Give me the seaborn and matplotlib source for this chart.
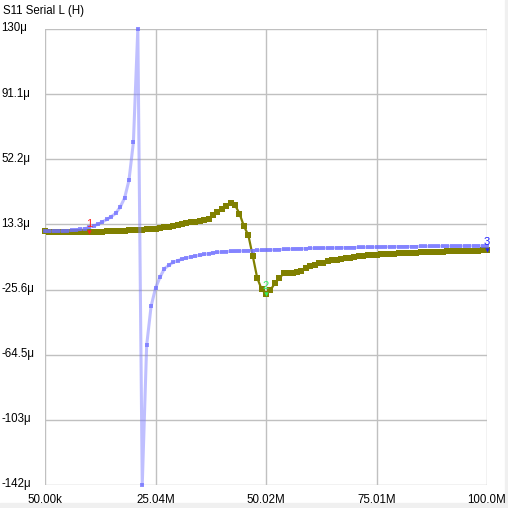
import numpy as np
import pandas as pd
import matplotlib
matplotlib.use("Agg")
import matplotlib.pyplot as plt
import matplotlib.transforms as mtrans
import seaborn as sns
from matplotlib.patches import Rectangle

# ---------------- data ----------------
title = "S11 Serial L (H)"
freq_start_mhz = 0.05
freq_stop_mhz = 100.0
n_points = 101
freq_mhz = np.linspace(freq_start_mhz, freq_stop_mhz, n_points)

blue_trace_uH = [
    9.2, 9.2, 9.3, 9.3, 9.4, 9.5, 9.7, 9.9, 10.3, 10.8,
    11.5, 12.4, 13.4, 14.8, 16.3, 17.9, 20.0, 23.6, 29.0, 39.7,
    62.4, 130.0, -142.3, -58.9, -35.6, -24.8, -18.3, -13.2, -11.1, -9.3,
    -8.4, -7.4, -6.7, -6.1, -5.6, -5.1, -4.6, -4.1, -3.7, -3.4,
    -3.1, -2.9, -2.8, -2.7, -2.6, -2.5, -2.4, -2.3, -2.2, -2.1,
    -2.0, -1.9, -1.8, -1.7, -1.6, -1.5, -1.4, -1.3, -1.2, -1.1,
    -1.0, -0.9, -0.9, -0.8, -0.8, -0.7, -0.7, -0.6, -0.6, -0.5,
    -0.5, -0.4, -0.4, -0.3, -0.3, -0.2, -0.2, -0.1, -0.1, 0.0,
    0.0, 0.0, 0.1, 0.1, 0.1, 0.2, 0.2, 0.2, 0.3, 0.3,
    0.3, 0.3, 0.4, 0.4, 0.4, 0.4, 0.5, 0.5, 0.5, 0.5,
    0.5,
]

olive_trace_uH = [
    9.2, 8.9, 8.7, 8.6, 8.6, 8.6, 8.6, 8.7, 8.7, 8.8,
    8.8, 8.9, 8.9, 9.0, 9.2, 9.3, 9.4, 9.5, 9.6, 9.7,
    9.8, 10.0, 10.2, 10.4, 10.6, 10.8, 11.2, 11.6, 12.0, 12.5,
    13.0, 13.6, 14.1, 14.6, 15.0, 15.3, 15.7, 16.8, 18.8, 20.6,
    22.8, 24.5, 25.8, 24.8, 19.8, 12.3, 6.9, -5.5, -18.5, -25.4,
    -28.4, -26.0, -21.8, -18.9, -15.9, -15.9, -15.8, -15.3, -14.5, -12.9,
    -11.7, -10.7, -9.9, -9.5, -8.7, -8.1, -7.7, -7.1, -6.8, -6.5,
    -6.1, -5.7, -5.4, -5.1, -4.9, -4.7, -4.5, -4.4, -4.2, -4.1,
    -4.0, -3.9, -3.8, -3.7, -3.5, -3.4, -3.3, -3.2, -3.1, -3.0,
    -2.9, -2.8, -2.7, -2.7, -2.6, -2.5, -2.4, -2.3, -2.3, -2.2,
    -2.1,
]

x_tick_values = np.linspace(freq_start_mhz, freq_stop_mhz, 5)
x_tick_labels = ["50.00k", "25.04M", "50.02M", "75.01M", "100.0M"]
y_tick_values = [130.0, 91.1, 52.2, 13.3, -25.6, -64.5, -103.4, -142.3]
y_tick_labels = ["130\u03bc", "91.1\u03bc", "52.2\u03bc", "13.3\u03bc",
                 "-25.6\u03bc", "-64.5\u03bc", "-103\u03bc", "-142\u03bc"]

marker_index = [10, 50, 100]
marker_names = ["1", "2", "3"]
marker_colors = ["#ff2020", "#30f060", "#2020ff"]

# ---------------- style ----------------
sns.set_style("white")
plt.rcParams["font.family"] = ["Liberation Sans", "DejaVu Sans"]

W = H = 508
fig = plt.figure(figsize=(W / 100, H / 100), dpi=100)
fig.patch.set_facecolor("white")
ax = fig.add_axes([45 / W, 23 / H, 442 / W, 456 / H])
ax.set_facecolor("white")

fig.add_artist(Rectangle((505 / W, 0), 3 / W, 1, transform=fig.transFigure,
                         color="#f0f0f0", zorder=0))
fig.add_artist(Rectangle((0, 0), 1, 5 / H, transform=fig.transFigure,
                         color="#f0f0f0", zorder=0))

df = pd.DataFrame({"freq": freq_mhz, "olive": olive_trace_uH, "blue": blue_trace_uH})

sns.lineplot(data=df, x="freq", y="olive", color="#808000", lw=1.6,
             marker="s", markersize=4.0, markeredgewidth=0, ax=ax,
             zorder=3, clip_on=False, estimator=None, sort=False)
sns.lineplot(data=df, x="freq", y="blue", color="#8080ff", lw=2.2, alpha=0.5,
             ax=ax, zorder=4, clip_on=False, estimator=None, sort=False)
sns.scatterplot(data=df, x="freq", y="blue", marker="s", s=8, color="#6a6aff",
                alpha=0.7, linewidth=0, ax=ax, zorder=5, clip_on=False)

mk = pd.DataFrame({"freq": [freq_mhz[i] for i in marker_index],
                   "val": [olive_trace_uH[i] for i in marker_index],
                   "name": marker_names, "color": marker_colors})
for _, r in mk.iterrows():
    ax.scatter([r["freq"]], [r["val"]], marker="v", s=10, color=r["color"],
               zorder=6, clip_on=False, linewidths=0)
    ax.annotate(r["name"], (r["freq"], r["val"]), xytext=(0, 2),
                textcoords="offset points", ha="center", va="bottom",
                color=r["color"], fontsize=8, zorder=7, annotation_clip=False)

ax.set_xlim(freq_start_mhz, freq_stop_mhz)
ax.set_ylim(min(y_tick_values), max(y_tick_values))
ax.set_xticks(x_tick_values)
ax.set_xticklabels(x_tick_labels)
ax.set_yticks(y_tick_values)
ax.set_yticklabels(y_tick_labels)
ax.set_xlabel("")
ax.set_ylabel("")
for s in ax.spines.values():
    s.set_visible(False)
ax.grid(True, color="#c0c0c0", lw=1)
ax.set_axisbelow(True)
ax.tick_params(axis="both", length=5, width=1, color="#c0c0c0",
               labelsize=8.3, labelcolor="#000000", direction="out")
ax.tick_params(axis="x", pad=1.5)
ax.tick_params(axis="y", pad=37 * 0.72)
shift_up = mtrans.ScaledTranslation(0, 2 / 100, fig.dpi_scale_trans)
for lab in ax.get_yticklabels():
    lab.set_horizontalalignment("left")
    lab.set_transform(lab.get_transform() + shift_up)

fig.text(3 / W, 1 - 11 / H, title, ha="left", va="center", fontsize=8.3,
         color="#000000")

fig.savefig("out.png", dpi=100, facecolor="white")
